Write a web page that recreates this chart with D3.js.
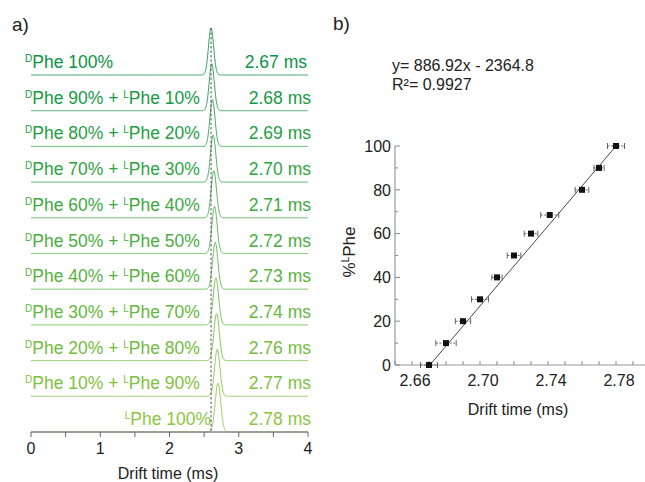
<!DOCTYPE html>
<meta charset="utf-8">
<script src="https://d3js.org/d3.v7.min.js"></script>
<style>
  body { margin: 0; background: #fff; }
  text { font-family: "Liberation Sans", Arial, sans-serif; }
</style>
<body>
<div id="chart"></div>
<script>
  // ---- data ----
  // panel a: one trace per mixture, top to bottom
  const dPercent = [100, 90, 80, 70, 60, 50, 40, 30, 20, 10, 0];
  const lPercent = [0, 10, 20, 30, 40, 50, 60, 70, 80, 90, 100];
  const driftTimes = [2.67, 2.68, 2.69, 2.70, 2.71, 2.72, 2.73, 2.74, 2.76, 2.77, 2.78];
  // apex position of each drawn peak (ms), as it sits on the time axis
  const peakCenters = [2.60, 2.61, 2.62, 2.63, 2.64, 2.65, 2.66, 2.67, 2.68, 2.69, 2.70];
  const peakWidths = [0.037, 0.037, 0.037, 0.038, 0.038, 0.038, 0.038, 0.039, 0.039, 0.039, 0.040];
  const peakHeights = [1, 1, 1, 1, 1, 1, 1, 1, 1, 1, 1.04];
  const refLine = 2.6;           // dashed reference line (ms)
  const xTicksA = [0, 1, 2, 3, 4];
  const xMinorA = [0, 0.5, 1, 1.5, 2, 2.5, 3, 3.5, 4];

  // panel b: calibration
  const pointTimes = [2.670, 2.680, 2.690, 2.700, 2.710, 2.720, 2.730, 2.741, 2.760, 2.770, 2.780];
  const pointPct = [0, 10, 20, 30, 40, 50, 60, 68.5, 80, 90, 100];
  const timeErr = [0.005, 0.006, 0.0045, 0.005, 0.003, 0.004, 0.004, 0.0053, 0.004, 0.003, 0.005];
  const fitEnds = [[2.6705, 0], [2.7800, 100]];
  const xTicksB = [2.66, 2.70, 2.74, 2.78];
  const yTicksB = [0, 20, 40, 60, 80, 100];

  const W = 645, H = 482;
  const svg = d3.select("#chart").append("svg")
    .attr("width", W).attr("height", H);

  // ================= panel a =================
  const xA = d3.scaleLinear().domain([0, 4]).range([31, 308]);
  const rowY = d3.scalePoint().domain(d3.range(dPercent.length)).range([75, 432]);
  const peakScale = d3.scaleLinear().domain([0, 1]).range([0, 47]);
  const colour = d3.scaleLinear().domain([0, dPercent.length - 1])
    .range(["#0a9444", "#8cc63f"]).interpolate(d3.interpolateRgb);

  svg.append("text").attr("x", 12).attr("y", 31)
    .attr("font-size", 19).attr("fill", "#222").text("a)");

  const gA = svg.append("g");
  const samples = d3.range(0, 4.0001, 0.004);

  dPercent.forEach((d, i) => {
    const base = rowY(i);
    const line = d3.line()
      .x(t => xA(t))
      .y(t => base - peakScale(peakHeights[i] *
        Math.exp(-0.5 * Math.pow((t - peakCenters[i]) / peakWidths[i], 2))));
    gA.append("path")
      .attr("d", line(samples))
      .attr("fill", "none")
      .attr("stroke", colour(i))
      .attr("stroke-width", 1)
      .attr("stroke-opacity", 0.85);

    // label on the left
    const lab = gA.append("text")
      .attr("y", base - 7)
      .attr("font-size", 17.5)
      .attr("fill", colour(i));
    if (i === dPercent.length - 1) {
      lab.attr("x", 211).attr("text-anchor", "end");
    } else {
      lab.attr("x", 25);
    }
    if (d > 0) {
      lab.append("tspan").attr("font-size", 10).attr("dy", -6).text("D");
      lab.append("tspan").attr("dy", 6).text("Phe " + d + "%");
    }
    if (d > 0 && lPercent[i] > 0) lab.append("tspan").text(" + ");
    if (lPercent[i] > 0) {
      lab.append("tspan").attr("font-size", 10).attr("dy", -6).text("L");
      lab.append("tspan").attr("dy", 6).text("Phe " + lPercent[i] + "%");
    }

    // drift time on the right
    gA.append("text")
      .attr("x", i === 0 ? 307 : 311)
      .attr("y", base - 7)
      .attr("text-anchor", "end")
      .attr("font-size", 17.5)
      .attr("fill", colour(i))
      .text(driftTimes[i].toFixed(2) + " ms");
  });

  // dashed reference line
  gA.append("line")
    .attr("x1", xA(refLine)).attr("x2", xA(refLine))
    .attr("y1", rowY(0) - peakScale(1)).attr("y2", rowY(dPercent.length - 1))
    .attr("stroke", "#555").attr("stroke-width", 1)
    .attr("stroke-dasharray", "2.5,2");

  // x axis of panel a
  const axA = gA.append("g").attr("transform", `translate(0,${rowY(dPercent.length - 1)})`);
  axA.append("line").attr("x1", xA(0)).attr("x2", xA(4))
    .attr("stroke", "#888").attr("stroke-width", 1.5);
  axA.selectAll(".tk").data(xMinorA).join("line")
    .attr("x1", d => xA(d)).attr("x2", d => xA(d))
    .attr("y1", 0).attr("y2", 5)
    .attr("stroke", "#666").attr("stroke-width", 1);
  axA.selectAll(".lb").data(xTicksA).join("text")
    .attr("x", d => xA(d)).attr("y", 22)
    .attr("text-anchor", "middle").attr("font-size", 16).attr("fill", "#222")
    .text(d => d);
  svg.append("text").attr("x", 168).attr("y", 479)
    .attr("text-anchor", "middle").attr("font-size", 16).attr("fill", "#222")
    .text("Drift time (ms)");

  // ================= panel b =================
  const xB = d3.scaleLinear().domain([2.65, 2.80]).range([395, 650]);
  const yB = d3.scaleLinear().domain([0, 100]).range([365, 146]);

  svg.append("text").attr("x", 333).attr("y", 30)
    .attr("font-size", 19).attr("fill", "#222").text("b)");
  svg.append("text").attr("x", 392).attr("y", 71)
    .attr("font-size", 16).attr("fill", "#222").text("y= 886.92x - 2364.8");
  svg.append("text").attr("x", 392).attr("y", 90)
    .attr("font-size", 16).attr("fill", "#222").text("R²= 0.9927");

  const gB = svg.append("g");

  // axes
  gB.append("line").attr("x1", xB(2.65)).attr("x2", xB(2.80))
    .attr("y1", yB(0)).attr("y2", yB(0)).attr("stroke", "#999").attr("stroke-width", 1.2);
  gB.append("line").attr("x1", xB(2.65)).attr("x2", xB(2.65))
    .attr("y1", yB(0)).attr("y2", yB(100)).attr("stroke", "#999").attr("stroke-width", 1.2);

  const yMinor = d3.range(0, 101, 10);
  gB.selectAll(".ytk").data(yMinor).join("line")
    .attr("x1", xB(2.65)).attr("x2", d => xB(2.65) + (d % 20 === 0 ? 5 : 3))
    .attr("y1", d => yB(d)).attr("y2", d => yB(d))
    .attr("stroke", "#888").attr("stroke-width", 1);
  gB.selectAll(".ylb").data(yTicksB).join("text")
    .attr("x", 391).attr("y", d => yB(d)).attr("dy", "0.36em")
    .attr("text-anchor", "end").attr("font-size", 16).attr("fill", "#222")
    .text(d => d);

  const xMinorB = d3.range(0, 16).map(k => 2.65 + k * 0.01);
  gB.selectAll(".xtk").data(xMinorB).join("line")
    .attr("x1", d => xB(d)).attr("x2", d => xB(d))
    .attr("y1", yB(0)).attr("y2", yB(0) - 4)
    .attr("stroke", "#888").attr("stroke-width", 1);
  gB.selectAll(".xlb").data(xTicksB).join("text")
    .attr("x", d => xB(d) + 3).attr("y", 386)
    .attr("text-anchor", "middle").attr("font-size", 16).attr("fill", "#222")
    .text(d => d.toFixed(2));

  svg.append("text").attr("x", 518).attr("y", 415)
    .attr("text-anchor", "middle").attr("font-size", 16).attr("fill", "#222")
    .text("Drift time (ms)");
  const yl = svg.append("text")
    .attr("transform", "translate(355,252) rotate(-90)")
    .attr("text-anchor", "middle").attr("font-size", 17).attr("fill", "#222");
  yl.append("tspan").text("%");
  yl.append("tspan").attr("font-size", 10).attr("dy", -6).text("L");
  yl.append("tspan").attr("dy", 6).text("Phe");

  // fit line
  gB.append("path")
    .attr("d", d3.line().x(d => xB(d[0])).y(d => yB(d[1]))(fitEnds))
    .attr("fill", "none").attr("stroke", "#333").attr("stroke-width", 0.9);

  // error bars
  const pts = pointTimes.map((t, i) => ({ t, p: pointPct[i], e: timeErr[i] }));
  gB.selectAll(".eb").data(pts).join("line")
    .attr("x1", d => xB(d.t - d.e)).attr("x2", d => xB(d.t + d.e))
    .attr("y1", d => yB(d.p)).attr("y2", d => yB(d.p))
    .attr("stroke", "#555").attr("stroke-width", 0.9).attr("stroke-dasharray", "2,1.5");
  [-1, 1].forEach(s => {
    gB.selectAll(".cap" + (s + 1)).data(pts).join("line")
      .attr("x1", d => xB(d.t + s * d.e)).attr("x2", d => xB(d.t + s * d.e))
      .attr("y1", d => yB(d.p) - 3).attr("y2", d => yB(d.p) + 3)
      .attr("stroke", "#555").attr("stroke-width", 0.9);
  });

  // points
  gB.selectAll(".pt").data(pts).join("rect")
    .attr("x", d => xB(d.t) - 3).attr("y", d => yB(d.p) - 3)
    .attr("width", 6).attr("height", 6)
    .attr("fill", "#111");
</script>
</body>
